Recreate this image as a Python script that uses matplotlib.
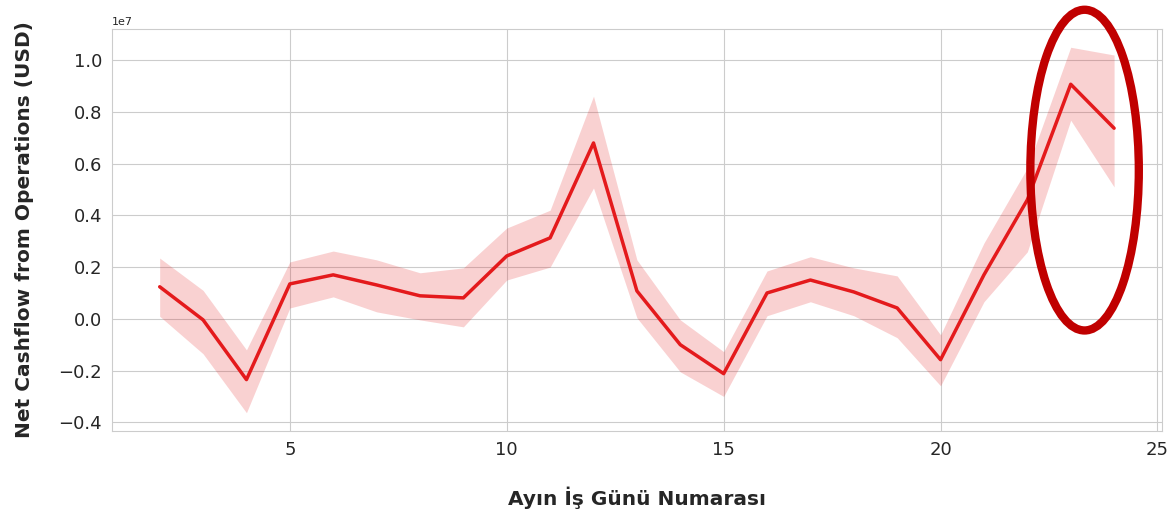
import numpy as np
import matplotlib
matplotlib.use('Agg')
import matplotlib.pyplot as plt
from matplotlib.patches import Ellipse
import seaborn as sns

sns.set_style('whitegrid')
plt.rcParams['font.family'] = ['DejaVu Sans']

# iş günü numarası ve nakit akışı (ortalama + güven aralığı)
days = [2, 3, 4, 5, 6, 7, 8, 9, 10, 11, 12, 13, 14, 15, 16, 17, 18, 19, 20, 21, 22, 23, 24]
mean_cf = [0.124, -0.004, -0.235, 0.135, 0.170, 0.131, 0.089, 0.081, 0.243, 0.313, 0.680, 0.108,
           -0.100, -0.212, 0.100, 0.150, 0.104, 0.042, -0.158, 0.170, 0.460, 0.907, 0.737]
upper_cf = [0.235, 0.110, -0.120, 0.220, 0.262, 0.228, 0.178, 0.197, 0.351, 0.420, 0.861, 0.228,
            -0.004, -0.127, 0.185, 0.240, 0.197, 0.166, -0.062, 0.293, 0.583, 1.050, 1.020]
lower_cf = [0.010, -0.135, -0.363, 0.042, 0.085, 0.027, -0.004, -0.031, 0.150, 0.200, 0.506, 0.004,
            -0.205, -0.300, 0.012, 0.066, 0.012, -0.073, -0.259, 0.066, 0.259, 0.768, 0.510]

scale = 1e7
mean_cf = np.array(mean_cf) * scale
upper_cf = np.array(upper_cf) * scale
lower_cf = np.array(lower_cf) * scale

fig = plt.figure(figsize=(11.7, 5.14), dpi=100)
ax = fig.add_axes([0.0957, 0.1615, 0.8973, 0.7821])

line_color = '#e41a1c'
ax.fill_between(days, lower_cf, upper_cf, color=line_color, alpha=0.2, linewidth=0)
ax.plot(days, mean_cf, color=line_color, linewidth=2.5)

# eksen sınırlarını elipsten önce sabitle
ax.autoscale_view()
xlim, ylim = ax.get_xlim(), ax.get_ylim()

# son günleri vurgulayan elips
ell = Ellipse((23.32, 0.575 * scale), width=2.5, height=1.24 * scale,
              fill=False, edgecolor='#c00000', linewidth=6, clip_on=False, zorder=5)
ax.add_patch(ell)
ax.set_xlim(xlim)
ax.set_ylim(ylim)

ax.set_xticks([5, 10, 15, 20, 25])
ax.set_yticks(np.array([-0.4, -0.2, 0.0, 0.2, 0.4, 0.6, 0.8, 1.0]) * scale)
ax.tick_params(axis='both', labelsize=13, colors='#262626')
ax.yaxis.get_offset_text().set_fontsize(8)

ax.set_xlabel('Ayın İş Günü Numarası', fontsize=14.5, fontweight='bold', labelpad=20, color='#262626')
ax.set_ylabel('Net Cashflow from Operations (USD)', fontsize=14.5, fontweight='bold', labelpad=18, color='#262626')

for s in ax.spines.values():
    s.set_color('#cccccc')

fig.savefig('out.png', dpi=100)
